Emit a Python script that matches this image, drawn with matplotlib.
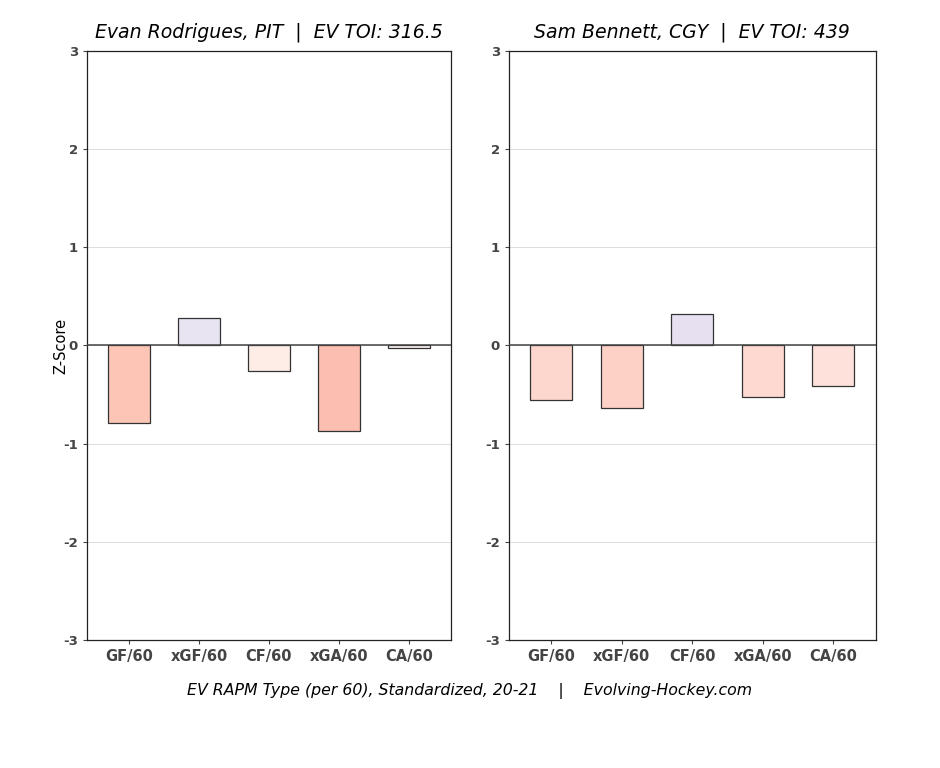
import numpy as np
import matplotlib.pyplot as plt

plt.rcParams['axes.unicode_minus'] = False

metrics = ['GF/60', 'xGF/60', 'CF/60', 'xGA/60', 'CA/60']

player_1 = 'Evan Rodrigues, PIT  |  EV TOI: 316.5'
values_1 = [-0.79, 0.28, -0.26, -0.87, -0.03]
colors_1 = ['#fcc5b6', '#e9e4f2', '#feece6', '#fcbeb0', '#fff5f2']

player_2 = 'Sam Bennett, CGY  |  EV TOI: 439'
values_2 = [-0.555, -0.635, 0.32, -0.525, -0.41]
colors_2 = ['#fdd7ce', '#fdd1c6', '#e6e0f1', '#fdd9d1', '#fee1da']

footer = 'EV RAPM Type (per 60), Standardized, 20-21    |    Evolving-Hockey.com'


def draw_panel(ax, title, values, colors):
    x = np.arange(len(metrics))
    ax.bar(x, values, width=0.6, color=colors, edgecolor='#333333', linewidth=0.9, zorder=3)
    ax.axhline(0, color='#444444', linewidth=1.1, zorder=4)
    ax.set_ylim(-3, 3)
    ax.set_xlim(-0.6, len(metrics) - 0.4)
    ax.set_yticks([-3, -2, -1, 0, 1, 2, 3])
    ax.set_xticks(x)
    ax.set_xticklabels(metrics)
    ax.yaxis.grid(True, color='#dddddd', linewidth=0.7, zorder=0)
    ax.tick_params(colors='#444444', length=3)
    ax.tick_params(axis='x', labelsize=10.5)
    ax.tick_params(axis='y', labelsize=9.5)
    for lab in ax.get_xticklabels() + ax.get_yticklabels():
        lab.set_fontweight('bold')
    for s in ax.spines.values():
        s.set_color('#222222')
        s.set_linewidth(0.9)
    ax.set_title(title, fontsize=13.6, style='italic', pad=9.5)


fig = plt.figure(figsize=(9.4, 7.68), dpi=100)
ax1 = fig.add_axes([0.0926, 0.1667, 0.387, 0.767])
ax2 = fig.add_axes([0.5415, 0.1667, 0.390, 0.767])

draw_panel(ax1, player_1, values_1, colors_1)
draw_panel(ax2, player_2, values_2, colors_2)
ax1.set_ylabel('Z-Score', fontsize=10.5, labelpad=-4)

fig.text(0.5, 0.1, footer, ha='center', va='center', fontsize=11.3, style='italic')

fig.savefig('out.png', dpi=100)
